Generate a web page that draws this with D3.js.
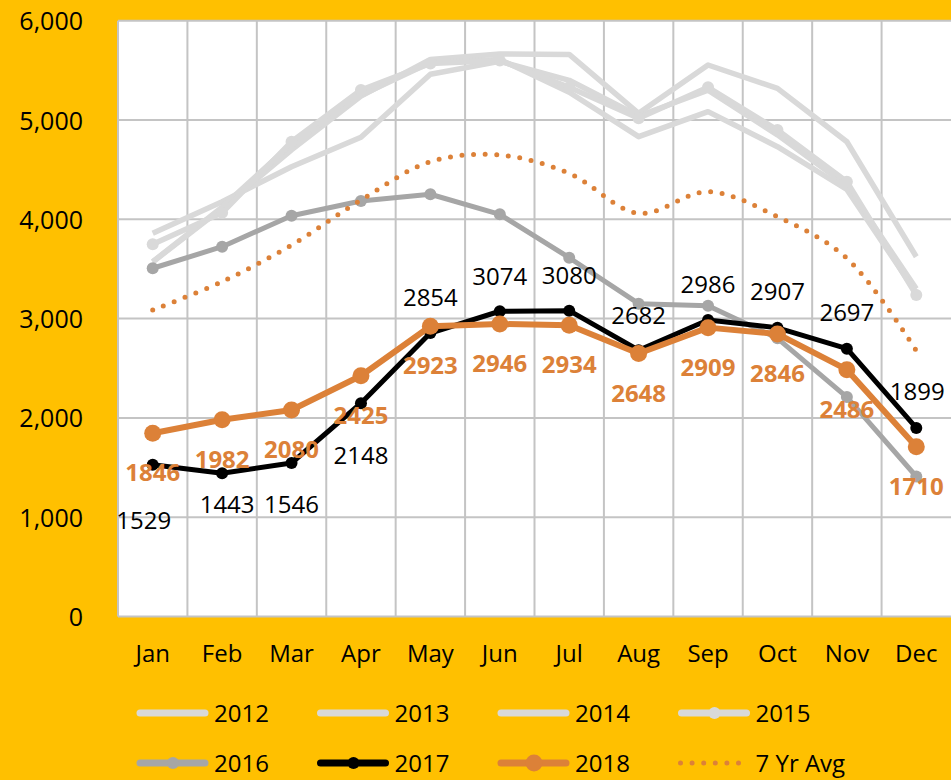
<!DOCTYPE html>
<html>
<head>
<meta charset="utf-8">
<script src="https://cdn.jsdelivr.net/npm/d3@7"></script>
<style>
  body { margin: 0; background: #FFC000; }
  text { font-family: "Open Sans", "Noto Sans", sans-serif; }
</style>
</head>
<body>
<div id="chart"></div>
<script>
(function() {
  var width = 951, height = 780;
  var margin = { top: 20.7, left: 118, right: 0, bottom: 163.5 };

  // data
  var months = ["Jan", "Feb", "Mar", "Apr", "May", "Jun", "Jul", "Aug", "Sep", "Oct", "Nov", "Dec"];
  var yTicks = [0, 1000, 2000, 3000, 4000, 5000, 6000];
  var y2012 = [3570, 4110, 4700, 5240, 5610, 5665, 5660, 5067, 5554, 5319, 4781, 3623];
  var y2013 = [3859, 4177, 4530, 4826, 5460, 5590, 5400, 5040, 5300, 4850, 4340, 3300];
  var y2014 = [3573, 4123, 4760, 5250, 5580, 5610, 5280, 4832, 5084, 4731, 4300, 3260];
  var y2015 = [3748, 4065, 4781, 5302, 5570, 5600, 5330, 5017, 5329, 4899, 4379, 3238];
  var y2016 = [3507, 3724, 4036, 4184, 4252, 4050, 3613, 3150, 3130, 2801, 2210, 1410];
  var y2017 = [1529, 1443, 1546, 2148, 2854, 3074, 3080, 2682, 2986, 2907, 2697, 1899];
  var y2018 = [1846, 1982, 2080, 2425, 2923, 2946, 2934, 2648, 2909, 2846, 2486, 1710];
  var avg7 = [3087, 3372, 3741, 4194, 4580, 4647, 4463, 4060, 4278, 4026, 3607, 2677];

  var series = [
    { name: "2012", values: y2012, color: "#d9d9d9", width: 5.5, r: 0 },
    { name: "2013", values: y2013, color: "#d9d9d9", width: 5.5, r: 0 },
    { name: "2014", values: y2014, color: "#d9d9d9", width: 5.5, r: 0 },
    { name: "2015", values: y2015, color: "#d9d9d9", width: 5.5, r: 6 },
    { name: "2016", values: y2016, color: "#a6a6a6", width: 5, r: 6 },
    { name: "2017", values: y2017, color: "#000000", width: 5, r: 6 },
    { name: "2018", values: y2018, color: "#dc8138", width: 6, r: 8.5 }
  ];

  // label placement for 2017 (dx, dy of baseline from the point)
  var off2017 = [[-9, 64], [5, 40], [0, 50], [0, 61], [0, -27], [0, -26], [0, -27], [0, -26], [0, -27], [0, -28], [0, -28], [1, -28]];

  var svg = d3.select("#chart")
    .append("svg")
    .attr("width", width)
    .attr("height", height)
    .style("background", "#FFC000");

  var x = d3.scaleBand().domain(months).range([margin.left, 951]);
  var y = d3.scaleLinear().domain([0, 6000]).range([height - margin.bottom, margin.top]);
  var cx = function(i) { return x(months[i]) + x.bandwidth() / 2; };

  // plot area
  svg.append("rect")
    .attr("x", margin.left).attr("y", margin.top)
    .attr("width", 951 - margin.left)
    .attr("height", y(0) - margin.top)
    .attr("fill", "#fff");

  // grid
  svg.append("g").selectAll("line.h")
    .data(yTicks).enter().append("line")
    .attr("x1", margin.left).attr("x2", 951)
    .attr("y1", function(d) { return y(d); })
    .attr("y2", function(d) { return y(d); })
    .attr("stroke", "#c4c4c4").attr("stroke-width", 2);

  svg.append("g").selectAll("line.v")
    .data(months).enter().append("line")
    .attr("x1", function(d) { return x(d); })
    .attr("x2", function(d) { return x(d); })
    .attr("y1", margin.top).attr("y2", y(0))
    .attr("stroke", "#c4c4c4").attr("stroke-width", 2);

  // axes labels
  svg.append("g").selectAll("text")
    .data(yTicks).enter().append("text")
    .attr("x", 83)
    .attr("y", function(d) { return y(d) + 9.5; })
    .attr("text-anchor", "end")
    .style("font-size", "25px")
    .text(function(d) { return d3.format(",")(d); });

  svg.append("g").selectAll("text")
    .data(months).enter().append("text")
    .attr("x", function(d, i) { return cx(i); })
    .attr("y", 662)
    .attr("text-anchor", "middle")
    .style("font-size", "24px")
    .text(function(d) { return d; });

  var line = d3.line()
    .x(function(d, i) { return cx(i); })
    .y(function(d) { return y(d); });

  series.forEach(function(s) {
    svg.append("path")
      .datum(s.values)
      .attr("d", line)
      .attr("fill", "none")
      .attr("stroke", s.color)
      .attr("stroke-width", s.width)
      .attr("stroke-linejoin", "round");
    if (s.r) {
      svg.append("g").selectAll("circle")
        .data(s.values).enter().append("circle")
        .attr("cx", function(d, i) { return cx(i); })
        .attr("cy", function(d) { return y(d); })
        .attr("r", s.r)
        .attr("fill", s.color);
    }
  });

  // 7 yr average, smoothed dotted
  var smooth = d3.line()
    .x(function(d, i) { return cx(i); })
    .y(function(d) { return y(d); })
    .curve(d3.curveCatmullRom.alpha(0.5));

  svg.append("path")
    .datum(avg7)
    .attr("d", smooth)
    .attr("fill", "none")
    .attr("stroke", "#dc8138")
    .attr("stroke-width", 5)
    .attr("stroke-linecap", "round")
    .attr("stroke-dasharray", "0 11.6");

  // data labels
  svg.append("g").selectAll("text")
    .data(y2017).enter().append("text")
    .attr("x", function(d, i) { return cx(i) + off2017[i][0]; })
    .attr("y", function(d, i) { return y(d) + off2017[i][1]; })
    .attr("text-anchor", "middle")
    .style("font-size", "24px")
    .attr("fill", "#000")
    .text(function(d) { return d; });

  svg.append("g").selectAll("text")
    .data(y2018).enter().append("text")
    .attr("x", function(d, i) { return cx(i); })
    .attr("y", function(d) { return y(d) + 48; })
    .attr("text-anchor", "middle")
    .style("font-size", "24px")
    .style("font-weight", "bold")
    .attr("fill", "#dc8138")
    .text(function(d) { return d; });

  // legend
  var legendItems = series.map(function(s) { return s; })
    .concat([{ name: "7 Yr Avg", color: "#dc8138", width: 5, r: 0, dotted: true }]);

  var lg = svg.append("g").selectAll("g")
    .data(legendItems).enter().append("g")
    .attr("transform", function(d, i) {
      return "translate(" + (137 + (i % 4) * 180.5) + "," + (713 + Math.floor(i / 4) * 50) + ")";
    });

  lg.append("line")
    .attr("x1", function(d) { return d.dotted ? 2 : 3; })
    .attr("x2", 68)
    .attr("stroke", function(d) { return d.color; })
    .attr("stroke-width", function(d) { return d.dotted ? 5 : 7; })
    .attr("stroke-linecap", "round")
    .attr("stroke-dasharray", function(d) { return d.dotted ? "0 11.6" : null; });

  lg.filter(function(d) { return d.r; })
    .append("circle")
    .attr("cx", 36)
    .attr("r", function(d) { return d.r; })
    .attr("fill", function(d) { return d.color; });

  lg.append("text")
    .attr("x", 77)
    .attr("y", 8.5)
    .style("font-size", "24px")
    .text(function(d) { return d.name; });
})();
</script>
</body>
</html>
